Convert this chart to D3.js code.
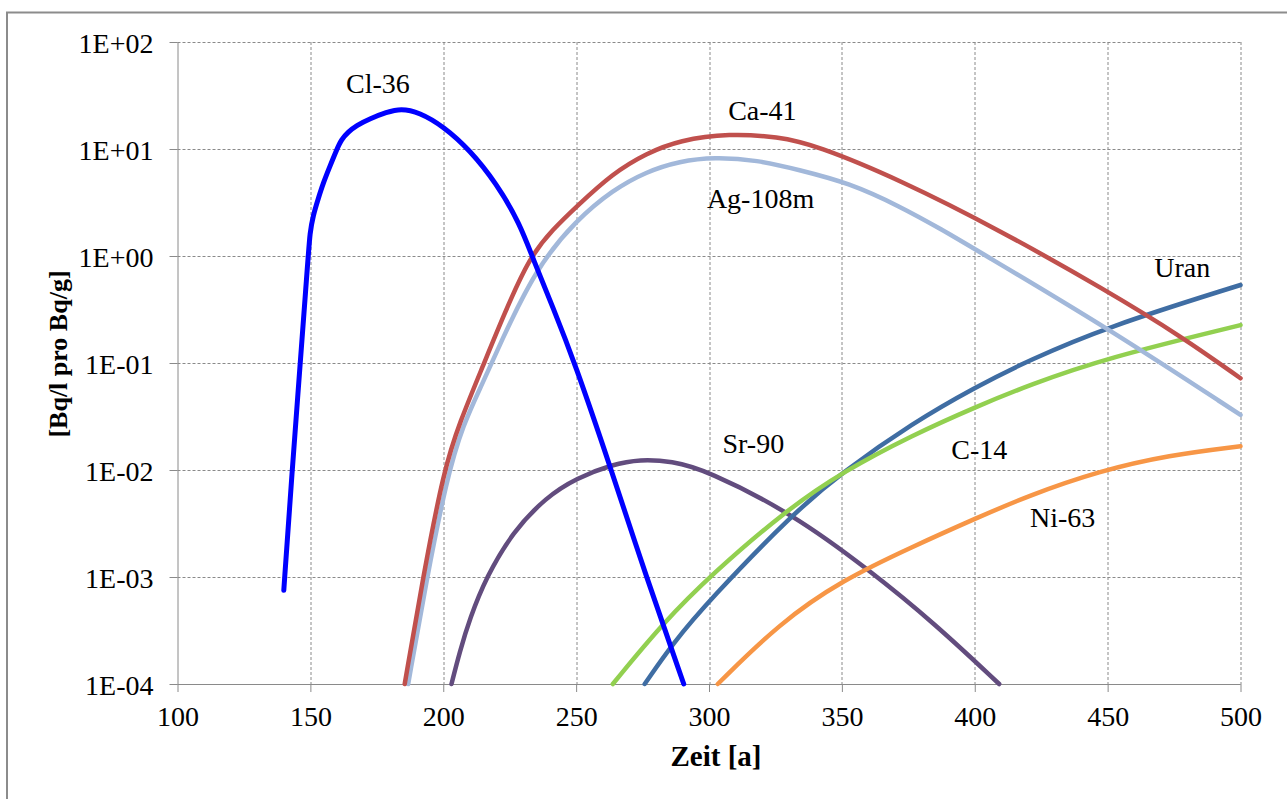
<!DOCTYPE html>
<html>
<head>
<meta charset="utf-8">
<script src="https://cdn.jsdelivr.net/npm/d3@7"></script>
<style>
  body { margin: 0; background: #fff; }
  svg text { font-family: "Liberation Serif", "DejaVu Serif", "Times New Roman", serif; fill: #000; }
  .tick-label { font-size: 28px; }
  .axis-title { font-size: 29px; font-weight: bold; }
  .y-title { font-size: 26px; font-weight: bold; }
  .series-label { font-size: 28px; }
</style>
</head>
<body>
<div class="chart"></div>
<script>
// x axis (years) and y axis (log decades)
const xTicks = [100, 150, 200, 250, 300, 350, 400, 450, 500];
const yTicks = [1e-4, 1e-3, 1e-2, 1e-1, 1e0, 1e1, 1e2];
const yTickLabels = ["1E-04", "1E-03", "1E-02", "1E-01", "1E+00", "1E+01", "1E+02"];

// series: years and Bq/l pro Bq/g
const cl36Years = [140, 142.3, 149.2, 149.8, 151.05, 152.9, 154.8, 157.3, 159.85, 161.7, 164.2, 167.4, 172.4, 178.6, 184, 191, 199.9, 210, 220, 228.8, 234, 241.3, 249.5, 262.6, 276.4, 290.5];
const cl36Values = [7.5e-4, 5.2e-3, 1.0, 1.63, 2.4, 3.4, 4.78, 6.84, 9.8, 12.3, 14.4, 16.6, 19.2, 22.0, 24.0, 22.0, 16.4, 9.8, 4.78, 2.02, 0.91, 0.33, 0.1, 0.0112, 1.0e-3, 1.0e-4];

const ca41Years = [185.5, 192.4, 200.2, 206.2, 214.8, 223, 232.5, 241.3, 250.1, 263.8, 276.4, 288.9, 307.7, 326, 340, 372, 409.2, 449.3, 478.1, 500];
const ca41Values = [1e-4, 1e-3, 1e-2, 0.028, 0.092, 0.29, 0.98, 1.78, 2.89, 5.93, 9.1, 12.1, 14.0, 13.0, 10.9, 5.13, 1.75, 0.48, 0.175, 0.072];

const ag108Years = [186.8, 193.7, 201.2, 207.4, 215, 221.2, 235, 250.1, 263.8, 276.4, 288.9, 302.1, 318, 334, 352.8, 371.6, 387.9, 400.5, 449.3, 500];
const ag108Values = [1e-4, 9.4e-4, 8.1e-3, 0.0265, 0.066, 0.148, 0.78, 2.17, 4.14, 6.14, 7.7, 8.4, 7.9, 6.37, 4.81, 2.93, 1.75, 1.14, 0.218, 0.0327];

const sr90Years = [203.1, 206.2, 210, 216.2, 226.2, 238.8, 250.1, 263.8, 274, 286, 298.9, 331.5, 360.3, 384.8, 409.2];
const sr90Values = [1e-4, 2.0e-4, 4.1e-4, 1.0e-3, 2.65e-3, 5.6e-3, 8.4e-3, 0.0113, 0.0126, 0.0121, 0.0100, 3.9e-3, 1.16e-3, 3.7e-4, 1e-4];

const c14Years = [263.8, 282.6, 301.4, 329, 350.3, 376.6, 400.5, 420.5, 449.3, 500];
const c14Values = [1e-4, 3.7e-4, 1.08e-3, 4.2e-3, 9.6e-3, 0.0212, 0.039, 0.0623, 0.111, 0.226];

const uranYears = [275.8, 286.4, 300.2, 331.5, 350.3, 376.6, 400.5, 420, 449.3, 500];
const uranValues = [1e-4, 2.4e-4, 6.1e-4, 3.9e-3, 9.6e-3, 0.0275, 0.060, 0.105, 0.216, 0.536];

const ni63Years = [303.3, 326.5, 350.3, 376.6, 400.5, 420.5, 446.8, 473.1, 500];
const ni63Values = [1e-4, 3.7e-4, 9.4e-4, 1.92e-3, 3.54e-3, 5.8e-3, 9.8e-3, 0.0138, 0.0167];

// drawing order: first is at the bottom
const series = [
  { name: "Sr-90", years: sr90Years, values: sr90Values, color: "#624C7E", labelAt: [316.7, 0.0145] },
  { name: "Ni-63", years: ni63Years, values: ni63Values, color: "#F79646", labelAt: [433.1, 0.00293] },
  { name: "Uran", years: uranYears, values: uranValues, color: "#3F6DA3", labelAt: [478.1, 0.641] },
  { name: "C-14", years: c14Years, values: c14Values, color: "#92D050", labelAt: [401.7, 0.0126] },
  { name: "Ag-108m", years: ag108Years, values: ag108Values, color: "#A2B8DA", labelAt: [319.4, 2.81] },
  { name: "Ca-41", years: ca41Years, values: ca41Values, color: "#C0504D", labelAt: [320.1, 18.7] },
  { name: "Cl-36", years: cl36Years, values: cl36Values, color: "#0000FF", labelAt: [175.4, 33.3] }
];

const svg = d3.select(".chart")
  .append("svg")
  .attr("width", 1287)
  .attr("height", 799);

// outer chart frame
svg.append("rect")
  .attr("x", 7)
  .attr("y", 12.5)
  .attr("width", 1300)
  .attr("height", 800)
  .attr("fill", "none")
  .attr("stroke", "#8c8c8c")
  .attr("stroke-width", 2);

const margin = { top: 42, left: 177.5 };
const width = 1240.5 - margin.left;
const height = 684 - margin.top;

const x = d3.scaleLinear().domain([100, 500]).range([0, width]);
const y = d3.scaleLog().domain([1e-4, 1e2]).range([height, 0]);

const chart = svg.append("g")
  .attr("transform", `translate(${margin.left},${margin.top})`);

// dashed grid
chart.append("g")
  .selectAll("line")
  .data(yTicks)
  .join("line")
  .attr("x1", 0)
  .attr("x2", width)
  .attr("y1", d => Math.round(y(d)) + 0.5)
  .attr("y2", d => Math.round(y(d)) + 0.5)
  .attr("stroke", "#8a8a8a")
  .attr("stroke-dasharray", "3,2");

chart.append("g")
  .selectAll("line")
  .data(xTicks.slice(1))
  .join("line")
  .attr("x1", d => Math.round(x(d)) + 0.5)
  .attr("x2", d => Math.round(x(d)) + 0.5)
  .attr("y1", 0)
  .attr("y2", height)
  .attr("stroke", "#8a8a8a")
  .attr("stroke-dasharray", "3,2");

// axes
const xAxis = d3.axisBottom(x).tickValues(xTicks).tickSize(8).tickPadding(14);
const yAxis = d3.axisLeft(y).tickValues(yTicks).tickSize(8).tickPadding(16)
  .tickFormat((d, i) => yTickLabels[i]);

const gx = chart.append("g")
  .attr("transform", `translate(0,${height})`)
  .call(xAxis);
const gy = chart.append("g").call(yAxis);

[gx, gy].forEach(g => {
  g.attr("font-family", null).attr("font-size", null);
  g.select(".domain").attr("stroke", "#8a8a8a");
  g.selectAll(".tick line").attr("stroke", "#8a8a8a");
  g.selectAll(".tick text")
    .attr("class", "tick-label")
    .attr("fill", "#000");
});
gy.selectAll(".tick text").attr("dy", "0.38em");
gy.select(".domain").attr("d", `M0.5,0V${height}`);
gx.select(".domain").attr("d", `M0,0.5H${width}`);

// curves, smoothed like the spreadsheet lines
const line = d3.line()
  .x(d => x(d[0]))
  .y(d => y(d[1]))
  .curve(d3.curveBasis);

chart.append("g")
  .selectAll("path")
  .data(series)
  .join("path")
  .attr("d", s => line(d3.zip(s.years, s.values)))
  .attr("fill", "none")
  .attr("stroke", s => s.color)
  .attr("stroke-width", s => s.name === "Cl-36" ? 5 : 4.5)
  .attr("stroke-linecap", "round")
  .attr("stroke-linejoin", "round");

// series labels
chart.append("g")
  .selectAll("text")
  .data(series)
  .join("text")
  .attr("class", "series-label")
  .attr("x", s => x(s.labelAt[0]))
  .attr("y", s => y(s.labelAt[1]))
  .attr("text-anchor", "middle")
  .text(s => s.name);

// axis titles
svg.append("text")
  .attr("class", "axis-title")
  .attr("x", 716)
  .attr("y", 766)
  .attr("text-anchor", "middle")
  .text("Zeit [a]");

svg.append("text")
  .attr("class", "y-title")
  .attr("transform", "translate(67,354) rotate(-90)")
  .attr("text-anchor", "middle")
  .text("[Bq/l pro Bq/g]");
</script>
</body>
</html>
